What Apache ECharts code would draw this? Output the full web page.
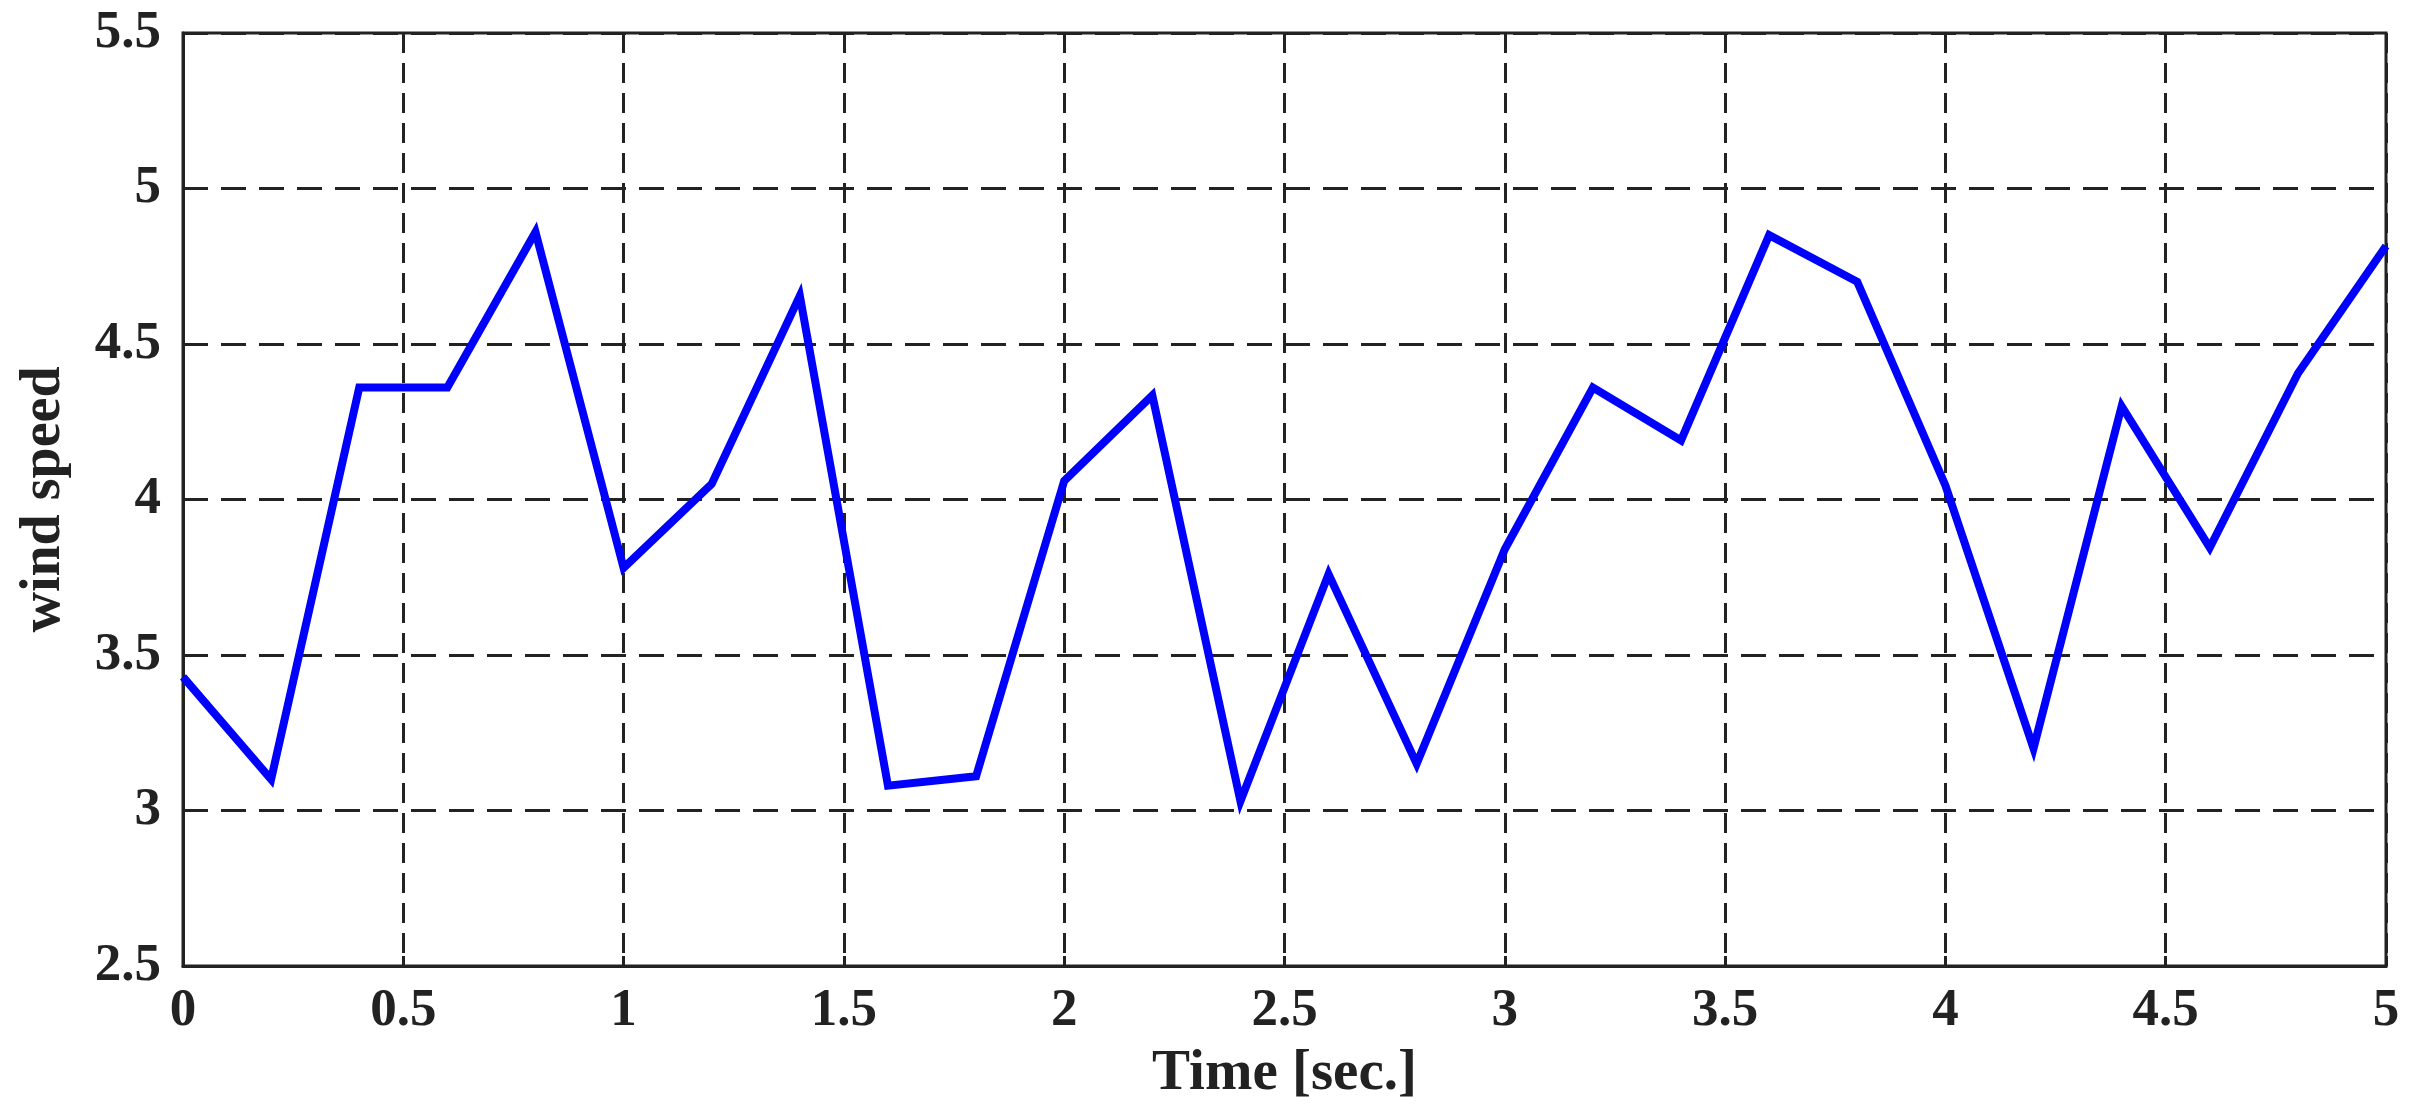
<!DOCTYPE html>
<html>
<head>
<meta charset="utf-8">
<script src="https://cdn.jsdelivr.net/npm/echarts@6/dist/echarts.min.js"></script>
<style>
html,body{margin:0;padding:0;background:#fff;}
#chart{width:2427px;height:1115px;}
</style>
</head>
<body>
<div id="chart"></div>
<script>
const times = [0, 0.2, 0.4, 0.6, 0.8, 1.0, 1.2, 1.4, 1.6, 1.8, 2.0, 2.2, 2.4, 2.6, 2.8, 3.0, 3.2, 3.4, 3.6, 3.8, 4.0, 4.2, 4.4, 4.6, 4.8, 5.0];
const windSpeed = [3.43, 3.10, 4.36, 4.36, 4.86, 3.78, 4.05, 4.655, 3.08, 3.11, 4.06, 4.335, 3.03, 3.76, 3.15, 3.84, 4.36, 4.19, 4.85, 4.70, 4.045, 3.20, 4.30, 3.845, 4.405, 4.815];
const xTitle = 'Time [sec.]';
const yTitle = 'wind speed';

const seriesData = times.map((t, i) => [t, windSpeed[i]]);
const FONT = '"Liberation Serif", "Times New Roman", serif';
const INK = '#222222';

const chart = echarts.init(document.getElementById('chart'), null, {renderer: 'canvas'});
chart.setOption({
  backgroundColor: '#ffffff',
  animation: false,
  grid: {
    left: 183, right: 41, top: 33, bottom: 149,
    show: true, borderColor: INK, borderWidth: 3, backgroundColor: 'transparent'
  },
  xAxis: {
    type: 'value', min: 0, max: 5, interval: 0.5,
    name: xTitle, nameLocation: 'middle', nameGap: 80,
    nameTextStyle: {fontFamily: FONT, fontWeight: 'bold', fontSize: 57, color: INK},
    axisLine: {show: true, onZero: false, lineStyle: {color: INK, width: 3}},
    axisTick: {show: true, inside: true, length: 10, lineStyle: {color: INK, width: 3}},
    axisLabel: {fontFamily: FONT, fontWeight: 'bold', fontSize: 53, color: INK, margin: 19},
    splitLine: {show: true, lineStyle: {color: INK, width: 3, type: [20, 10]}}
  },
  yAxis: {
    type: 'value', min: 2.5, max: 5.5, interval: 0.5,
    name: yTitle, nameLocation: 'middle', nameGap: 110, nameRotate: 90,
    nameTextStyle: {fontFamily: FONT, fontWeight: 'bold', fontSize: 56, color: INK},
    axisLine: {show: true, onZero: false, lineStyle: {color: INK, width: 3}},
    axisTick: {show: true, inside: true, length: 10, lineStyle: {color: INK, width: 3}},
    axisLabel: {fontFamily: FONT, fontWeight: 'bold', fontSize: 53, color: INK, margin: 22},
    splitLine: {show: true, lineStyle: {color: INK, width: 3, type: [25, 13]}}
  },
  series: [{
    type: 'line',
    data: seriesData,
    showSymbol: false,
    lineStyle: {color: '#0000ff', width: 8, join: 'miter'},
    itemStyle: {color: '#0000ff'},
    z: 5
  }]
});
</script>
</body>
</html>
